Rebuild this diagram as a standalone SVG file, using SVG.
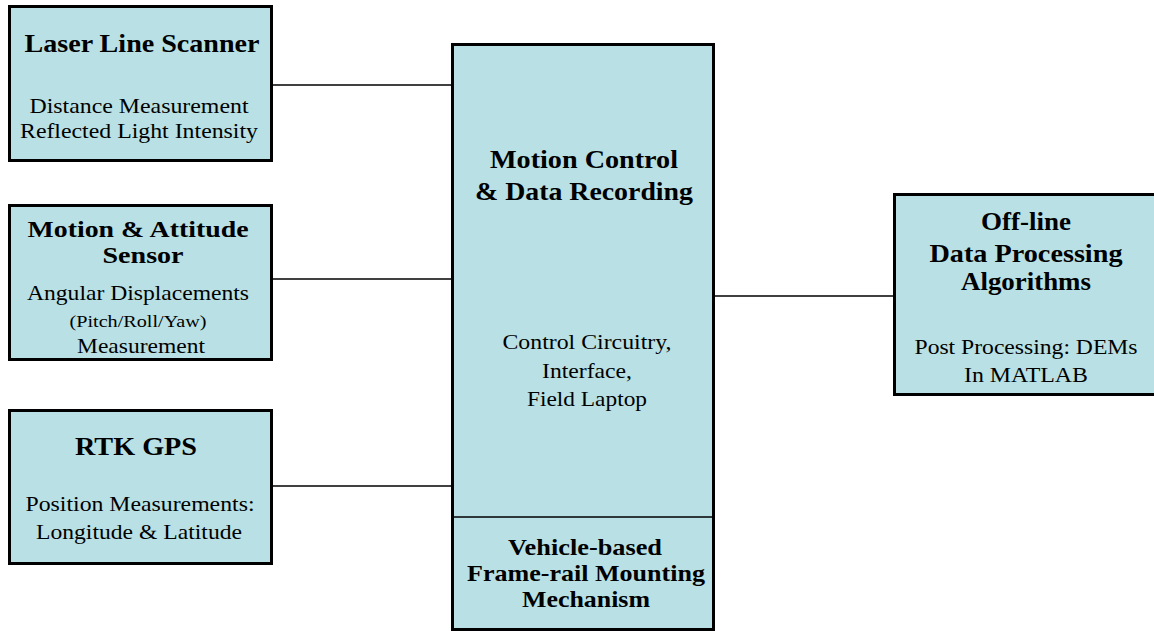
<svg xmlns="http://www.w3.org/2000/svg" width="1154" height="631" viewBox="0 0 1154 631">
<style>
.box{fill:#b9e0e4;stroke:#000;stroke-width:3}
.t{font-family:"Liberation Serif","Times New Roman",serif;font-weight:bold;font-size:26px;fill:#000;text-anchor:middle}
.tc{font-size:23px}
.b{font-family:"Liberation Serif","Times New Roman",serif;font-size:22px;fill:#000;text-anchor:middle}
.s{font-family:"Liberation Serif","Times New Roman",serif;font-size:17px;fill:#000;text-anchor:middle}
.c{stroke:#000;stroke-width:1.5;fill:none}
</style>
<rect width="1154" height="631" fill="#fff"/>
<g id="connectors">
<line class="c" x1="273" y1="85" x2="451" y2="85"/>
<line class="c" x1="273" y1="279" x2="451" y2="279"/>
<line class="c" x1="273" y1="486" x2="451" y2="486"/>
<line class="c" x1="715" y1="296" x2="893" y2="296"/>
</g>
<g id="laser">
<rect class="box" x="9.5" y="6.5" width="262" height="154"/>
<text class="t" x="142" y="52" textLength="235" lengthAdjust="spacingAndGlyphs">Laser Line Scanner</text>
<text class="b" x="139" y="113" textLength="219" lengthAdjust="spacingAndGlyphs">Distance Measurement</text>
<text class="b" x="139" y="138" textLength="238" lengthAdjust="spacingAndGlyphs">Reflected Light Intensity</text>
</g>
<g id="motion">
<rect class="box" x="9.5" y="205.5" width="262" height="154"/>
<text class="t tc" x="138" y="237" textLength="221" lengthAdjust="spacingAndGlyphs">Motion &amp; Attitude</text>
<text class="t tc" x="143" y="263" textLength="81" lengthAdjust="spacingAndGlyphs">Sensor</text>
<text class="b" x="138" y="300" textLength="222" lengthAdjust="spacingAndGlyphs">Angular Displacements</text>
<text class="s" x="138" y="327" textLength="137" lengthAdjust="spacingAndGlyphs">(Pitch/Roll/Yaw)</text>
<text class="b" x="141" y="353" textLength="128" lengthAdjust="spacingAndGlyphs">Measurement</text>
</g>
<g id="gps">
<rect class="box" x="9.5" y="410.5" width="262" height="153"/>
<text class="t" x="136" y="455" textLength="122" lengthAdjust="spacingAndGlyphs">RTK GPS</text>
<text class="b" x="140" y="511" textLength="229" lengthAdjust="spacingAndGlyphs">Position Measurements:</text>
<text class="b" x="139" y="539" textLength="206" lengthAdjust="spacingAndGlyphs">Longitude &amp; Latitude</text>
</g>
<g id="control">
<rect class="box" x="452.5" y="44.5" width="261" height="585" stroke-width="2.5"/>
<line x1="452" y1="517" x2="714" y2="517" stroke="#000" stroke-width="1.5"/>
<text class="t" x="584" y="168" textLength="188" lengthAdjust="spacingAndGlyphs">Motion Control</text>
<text class="t" x="584" y="200" textLength="218" lengthAdjust="spacingAndGlyphs">&amp; Data Recording</text>
<text class="b" x="587" y="349" textLength="169" lengthAdjust="spacingAndGlyphs">Control Circuitry,</text>
<text class="b" x="587" y="378" textLength="90" lengthAdjust="spacingAndGlyphs">Interface,</text>
<text class="b" x="587" y="406" textLength="120" lengthAdjust="spacingAndGlyphs">Field Laptop</text>
<text class="t tc" x="585" y="555" textLength="154" lengthAdjust="spacingAndGlyphs">Vehicle-based</text>
<text class="t tc" x="586" y="581" textLength="238" lengthAdjust="spacingAndGlyphs">Frame-rail Mounting</text>
<text class="t tc" x="586" y="607" textLength="128" lengthAdjust="spacingAndGlyphs">Mechanism</text>
</g>
<g id="offline">
<rect class="box" x="894.5" y="194.5" width="270" height="200"/>
<text class="t" x="1026" y="230" textLength="90" lengthAdjust="spacingAndGlyphs">Off-line</text>
<text class="t" x="1026" y="262" textLength="193" lengthAdjust="spacingAndGlyphs">Data Processing</text>
<text class="t" x="1026" y="290" textLength="130" lengthAdjust="spacingAndGlyphs">Algorithms</text>
<text class="b" x="1026" y="354" textLength="223" lengthAdjust="spacingAndGlyphs">Post Processing: DEMs</text>
<text class="b" x="1026" y="382" textLength="124" lengthAdjust="spacingAndGlyphs">In MATLAB</text>
</g>
</svg>
